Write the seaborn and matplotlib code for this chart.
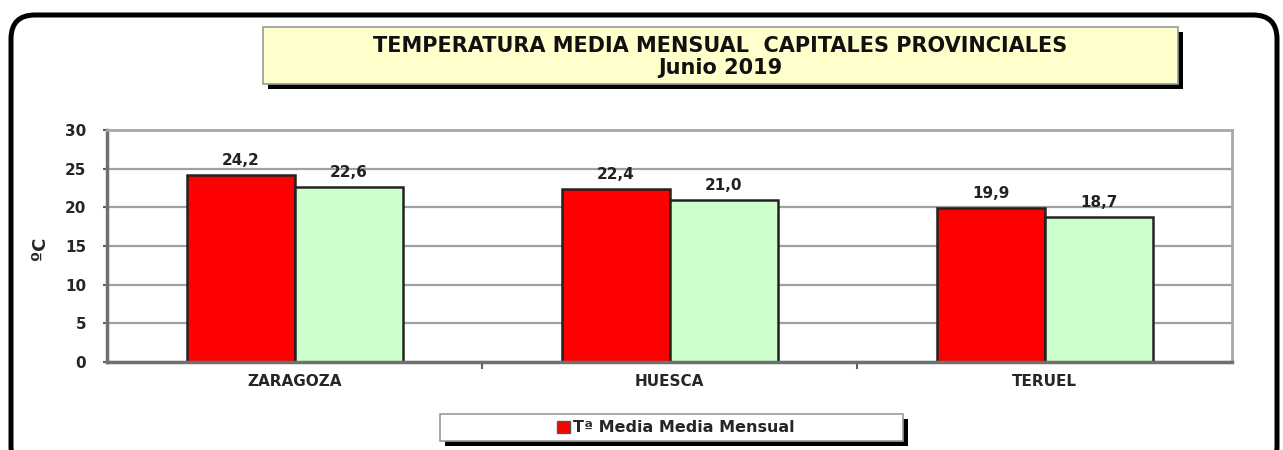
import matplotlib

matplotlib.use("Agg")
import matplotlib.pyplot as plt
from matplotlib.patches import Rectangle, FancyBboxPatch, Patch
from matplotlib.transforms import IdentityTransform
import seaborn as sns
import pandas as pd

# --- Datos ---
ciudades = ["ZARAGOZA", "HUESCA", "TERUEL"]
series = ["Tª Media Media Mensual", "Tª Media Normal"]
media_mensual = [24.2, 22.4, 19.9]
media_normal = [22.6, 21.0, 18.7]
colores = ["#FF0000", "#CCFFCC"]
yticks = [0, 5, 10, 15, 20, 25, 30]
titulo = "TEMPERATURA MEDIA MENSUAL  CAPITALES PROVINCIALES\nJunio 2019"

df = pd.DataFrame({
    "ciudad": ciudades * 2,
    "serie": [series[0]] * 3 + [series[1]] * 3,
    "valor": media_mensual + media_normal,
})

sns.set_style("white")
plt.rcParams["font.family"] = ["DejaVu Sans"]
plt.rcParams["font.weight"] = "bold"

W, H = 1283, 450
fig = plt.figure(figsize=(W / 100, H / 100), dpi=100)
ax = fig.add_axes([107 / W, (H - 362) / H, (1232 - 107) / W, (362 - 130) / H])

sns.barplot(data=df, x="ciudad", y="valor", hue="serie", palette=colores,
            width=0.576, gap=0, edgecolor="#222222", linewidth=1.8,
            saturation=1, ax=ax, legend=False)

# etiquetas de valor con coma decimal
for cont in ax.containers:
    etiquetas = [f"{b.get_height():.1f}".replace(".", ",") for b in cont]
    ax.bar_label(cont, labels=etiquetas, padding=5, fontsize=11,
                 fontweight="bold", color="#222222")

ax.set_ylim(0, 30)
ax.set_xlim(-0.5, 2.5)
ax.set_yticks(yticks)
ax.yaxis.grid(True, color="#A0A0A0", linewidth=1.6)
ax.set_axisbelow(True)
ax.tick_params(axis="y", length=3, width=1.5, color="#606060", pad=12,
               labelsize=11, left=True)
ax.tick_params(axis="x", which="major", length=0, pad=9, labelsize=11)
ax.set_xticks([0.5, 1.5], minor=True)
ax.tick_params(axis="x", which="minor", length=5, width=1.5, color="#606060", bottom=True)
for lab in ax.get_xticklabels() + ax.get_yticklabels():
    lab.set_fontweight("bold")
ax.set_xlabel("")
ax.set_ylabel("ºC", fontsize=13, fontweight="bold")
ax.yaxis.set_label_coords(-0.052, 0.49)

for lado in ["left", "bottom"]:
    ax.spines[lado].set_color("#707070")
    ax.spines[lado].set_linewidth(2.5)
for lado in ["top", "right"]:
    ax.spines[lado].set_color("#A8A8A8")
    ax.spines[lado].set_linewidth(2)

px = IdentityTransform()

# marco exterior redondeado
fig.patches.append(FancyBboxPatch((11, -20), 1266, 455, boxstyle="round,pad=0,rounding_size=24",
                                  facecolor="none", edgecolor="black", linewidth=3.6,
                                  transform=px, figure=fig))

# caja del titulo con sombra
fig.patches.append(Rectangle((268, H - 89), 915, 57, facecolor="black",
                             edgecolor="none", transform=px, figure=fig))
fig.patches.append(Rectangle((263, H - 84), 915, 57, facecolor="#FFFFCC",
                             edgecolor="#9A9A9A", linewidth=1.2, transform=px, figure=fig))
fig.text(720 / W, (H - 57) / H, titulo, ha="center", va="center", fontsize=15,
         fontweight="bold", linespacing=1.15, color="#111111")

# caja de la leyenda con sombra
fig.patches.append(Rectangle((445, H - 446), 463, 27, facecolor="black",
                             edgecolor="none", transform=px, figure=fig))
fig.patches.append(Rectangle((440, H - 441), 463, 27, facecolor="white",
                             edgecolor="#9A9A9A", linewidth=1.2, transform=px, figure=fig))
fig.legend(handles=[Patch(facecolor=colores[0], edgecolor="#555555", label=series[0])],
           loc="center", bbox_to_anchor=(676 / W, (H - 428) / H), frameon=False,
           handlelength=0.8, handleheight=0.8, handletextpad=0.2,
           prop={"weight": "bold", "size": 11.5})

fig.savefig("out.png", dpi=100)
